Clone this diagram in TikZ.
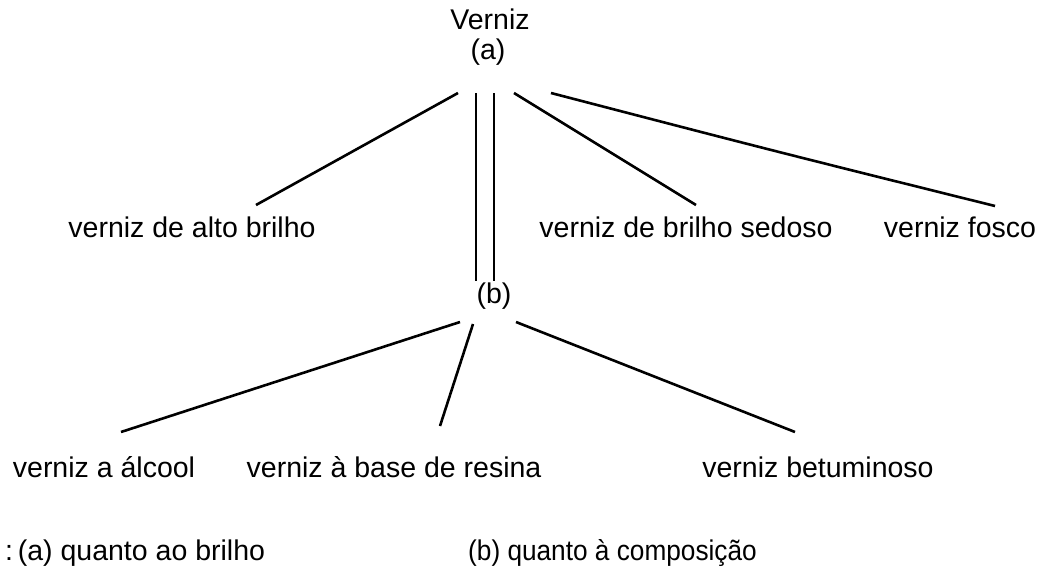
\documentclass[tikz,border=0pt]{standalone}
\usepackage{fontspec}
\setmainfont{Liberation Sans}
\begin{document}
\begin{tikzpicture}[x=1pt,y=-1pt,
  lbl/.style={inner sep=0pt,anchor=base,font=\fontsize{28.5}{32}\selectfont},
  legend/.style={inner sep=0pt,anchor=base west,font=\fontsize{28.5}{32}\selectfont},
  branch/.style={line width=2.6pt,line cap=butt}]
\useasboundingbox (0,0) rectangle (1043,573);

% root and subdivision labels
\node[lbl] (verniz) at (490,29) {Verniz};
\node[lbl] (a) at (488,59) {(a)};
\node[lbl] (b) at (494,303) {(b)};

% first criterion: gloss
\node[lbl] (alto) at (192,237) {verniz de alto brilho};
\node[lbl] (sedoso) at (686,237) {verniz de brilho sedoso};
\node[lbl] (fosco) at (960,237) {verniz fosco};

% second criterion: composition
\node[lbl] (alcool) at (104,477) {verniz a álcool};
\node[lbl] (resina) at (394,477) {verniz à base de resina};
\node[lbl] (betume) at (818,477) {verniz betuminoso};

% legend
\node[legend] (la) at (5,560) {:\,(a) quanto ao brilho};
\node[legend] (lb) at (468,560) {\scalebox{0.92}[1]{(b) quanto à composição}};

% line end points
\coordinate (a1) at (458,93);   \coordinate (alto-e) at (256,205);
\coordinate (a2) at (476,93);   \coordinate (b2) at (476,281);
\coordinate (a3) at (494,93);   \coordinate (b3) at (494,281);
\coordinate (a4) at (514,93);   \coordinate (sedoso-e) at (696,205);
\coordinate (a5) at (551,93);   \coordinate (fosco-e) at (995,206);
\coordinate (b-l) at (460,322); \coordinate (alcool-e) at (121,432);
\coordinate (b-m) at (473,324); \coordinate (resina-e) at (440,426);
\coordinate (b-r) at (516,322); \coordinate (betume-e) at (795,432);

\draw[branch] (a1) -- (alto-e);
\draw[branch] (a2) -- (b2);
\draw[branch] (a3) -- (b3);
\draw[branch] (a4) -- (sedoso-e);
\draw[branch] (a5) .. controls (770,150) .. (fosco-e);
\draw[branch] (b-l) -- (alcool-e);
\draw[branch] (b-m) -- (resina-e);
\draw[branch] (b-r) -- (betume-e);
\end{tikzpicture}
\end{document}
